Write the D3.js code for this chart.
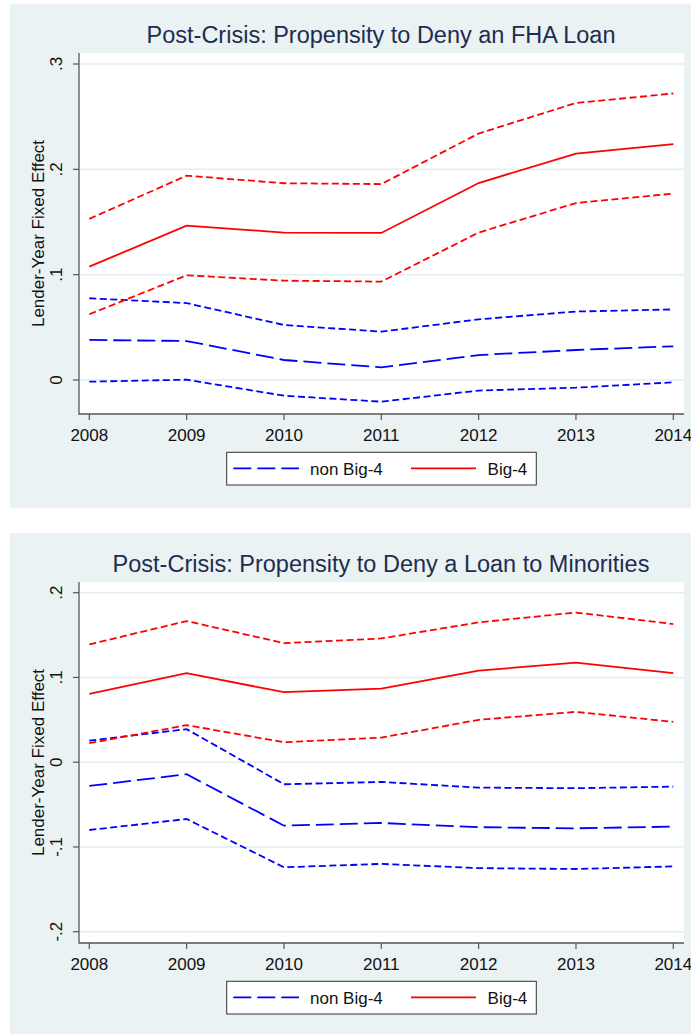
<!DOCTYPE html>
<html><head><meta charset="utf-8">
<script src="https://cdn.jsdelivr.net/npm/d3@7"></script>
<style>
html,body{margin:0;padding:0;background:#fff;}
svg{display:block;font-family:Arial,"Liberation Sans",sans-serif;}
</style></head>
<body>
<svg id="chart" width="691" height="1034"></svg>
<script>
const years = [2008, 2009, 2010, 2011, 2012, 2013, 2014];

// Panel 1: FHA loan
const fhaTitle = "Post-Crisis: Propensity to Deny an FHA Loan";
const fhaTicks = [0, 0.1, 0.2, 0.3];
const fhaTickLabels = ["0", ".1", ".2", ".3"];
const fhaBig4 = [0.1076, 0.1466, 0.140, 0.1396, 0.187, 0.215, 0.224];
const fhaBig4Lo = [0.0624, 0.0994, 0.0943, 0.0934, 0.140, 0.168, 0.177];
const fhaBig4Hi = [0.153, 0.194, 0.1868, 0.186, 0.234, 0.263, 0.272];
const fhaNon = [0.038, 0.037, 0.019, 0.012, 0.0237, 0.0285, 0.032];
const fhaNonLo = [-0.0016, 0.0003, -0.0149, -0.0206, -0.010, -0.0073, -0.0022];
const fhaNonHi = [0.0776, 0.073, 0.0522, 0.0459, 0.0576, 0.065, 0.067];

// Panel 2: minorities
const minTitle = "Post-Crisis: Propensity to Deny a Loan to Minorities";
const minTicks = [-0.2, -0.1, 0, 0.1, 0.2];
const minTickLabels = ["-.2", "-.1", "0", ".1", ".2"];
const minBig4 = [0.0806, 0.105, 0.0826, 0.0869, 0.108, 0.1176, 0.105];
const minBig4Lo = [0.0224, 0.0437, 0.0236, 0.029, 0.050, 0.0594, 0.0476];
const minBig4Hi = [0.139, 0.1665, 0.1405, 0.146, 0.165, 0.1766, 0.163];
const minNon = [-0.028, -0.0142, -0.0749, -0.0717, -0.0767, -0.078, -0.076];
const minNonLo = [-0.080, -0.067, -0.124, -0.120, -0.125, -0.126, -0.123];
const minNonHi = [0.0255, 0.039, -0.026, -0.0233, -0.030, -0.0307, -0.0288];

const legendLabels = ["non Big-4", "Big-4"];
const yTitle = "Lender-Year Fixed Effect";

const svg = d3.select("#chart");
const RED = "#ff0000", BLUE = "#0000ff";
const SHORT = "7,3.5", LONG = "18,6";

function panel(offY, cfg) {
  const g = svg.append("g").attr("transform", `translate(0,${offY})`);
  g.append("rect").attr("x", 10).attr("y", 4).attr("width", 681).attr("height", 504).attr("fill", "#eaf2f3");
  const plot = {l: 79, r: 684, t: 53, b: 414};
  g.append("rect").attr("x", plot.l).attr("y", plot.t).attr("width", plot.r - plot.l).attr("height", plot.b - plot.t).attr("fill", "#fff");

  const x = d3.scaleLinear().domain([years[0], years[years.length - 1]]).range([89.3, 673.3]);
  const y = d3.scaleLinear().domain(cfg.yDomain).range(cfg.yRange);

  // gridlines
  g.selectAll(".grid").data(cfg.ticks).enter().append("line")
    .attr("x1", plot.l + 1).attr("x2", plot.r).attr("y1", d => y(d)).attr("y2", d => y(d))
    .attr("stroke", "#e4eeef").attr("stroke-width", 1.5);

  // title
  g.append("text").attr("x", 381).attr("y", 43).attr("text-anchor", "middle")
    .attr("font-size", 23.5).attr("fill", "#1e2d4f").text(cfg.title);

  // lines
  const line = d3.line().x((d, i) => x(years[i])).y(d => y(d));
  const series = [
    {v: cfg.nonLo, c: BLUE, dash: SHORT},
    {v: cfg.nonHi, c: BLUE, dash: SHORT},
    {v: cfg.non, c: BLUE, dash: LONG},
    {v: cfg.b4Lo, c: RED, dash: SHORT},
    {v: cfg.b4Hi, c: RED, dash: SHORT},
    {v: cfg.b4, c: RED, dash: null}
  ];
  series.forEach(s => {
    g.append("path").attr("d", line(s.v)).attr("fill", "none").attr("stroke", s.c)
      .attr("stroke-width", 1.8).attr("stroke-dasharray", s.dash);
  });

  // axes
  const axisColor = "#555";
  g.append("line").attr("x1", plot.l).attr("x2", plot.l).attr("y1", plot.t).attr("y2", plot.b + 0.5).attr("stroke", axisColor).attr("stroke-width", 1.3);
  g.append("line").attr("x1", plot.l).attr("x2", plot.r).attr("y1", plot.b).attr("y2", plot.b).attr("stroke", axisColor).attr("stroke-width", 1.3);
  g.selectAll(".yt").data(cfg.ticks).enter().append("line")
    .attr("x1", plot.l - 6).attr("x2", plot.l).attr("y1", d => y(d)).attr("y2", d => y(d))
    .attr("stroke", axisColor).attr("stroke-width", 1.2);
  g.selectAll(".ytl").data(cfg.ticks).enter().append("text")
    .attr("transform", d => `translate(62,${y(d)}) rotate(-90)`)
    .attr("text-anchor", "middle").attr("font-size", 17).attr("fill", "#111")
    .text((d, i) => cfg.tickLabels[i]);
  g.selectAll(".xt").data(years).enter().append("line")
    .attr("x1", d => x(d)).attr("x2", d => x(d)).attr("y1", plot.b).attr("y2", plot.b + 6)
    .attr("stroke", axisColor).attr("stroke-width", 1.2);
  g.selectAll(".xtl").data(years).enter().append("text")
    .attr("x", d => x(d)).attr("y", 441).attr("text-anchor", "middle")
    .attr("font-size", 17).attr("fill", "#111").text(d => d);

  g.append("text").attr("transform", `translate(44,233.5) rotate(-90)`)
    .attr("text-anchor", "middle").attr("font-size", 17).attr("fill", "#111").text(yTitle);

  // legend
  const lg = g.append("g");
  lg.append("rect").attr("x", 226.7).attr("y", 452.3).attr("width", 309.6).attr("height", 32.7)
    .attr("fill", "#fff").attr("stroke", "#333").attr("stroke-width", 1);
  lg.append("line").attr("x1", 233.3).attr("x2", 299).attr("y1", 468.3).attr("y2", 468.3)
    .attr("stroke", BLUE).attr("stroke-width", 1.8).attr("stroke-dasharray", LONG);
  lg.append("text").attr("x", 310).attr("y", 474.5).attr("font-size", 17).attr("fill", "#111").text(legendLabels[0]);
  lg.append("line").attr("x1", 411).attr("x2", 476).attr("y1", 468.3).attr("y2", 468.3)
    .attr("stroke", RED).attr("stroke-width", 1.8);
  lg.append("text").attr("x", 527.3).attr("y", 474.5).attr("text-anchor", "end").attr("font-size", 17).attr("fill", "#111").text(legendLabels[1]);
}

panel(0, {
  title: fhaTitle, ticks: fhaTicks, tickLabels: fhaTickLabels,
  yDomain: [0, 0.3], yRange: [380, 64],
  b4: fhaBig4, b4Lo: fhaBig4Lo, b4Hi: fhaBig4Hi,
  non: fhaNon, nonLo: fhaNonLo, nonHi: fhaNonHi
});
panel(529, {
  title: minTitle, ticks: minTicks, tickLabels: minTickLabels,
  yDomain: [-0.2, 0.2], yRange: [931.7 - 529, 592.7 - 529],
  b4: minBig4, b4Lo: minBig4Lo, b4Hi: minBig4Hi,
  non: minNon, nonLo: minNonLo, nonHi: minNonHi
});
</script>
</body></html>
